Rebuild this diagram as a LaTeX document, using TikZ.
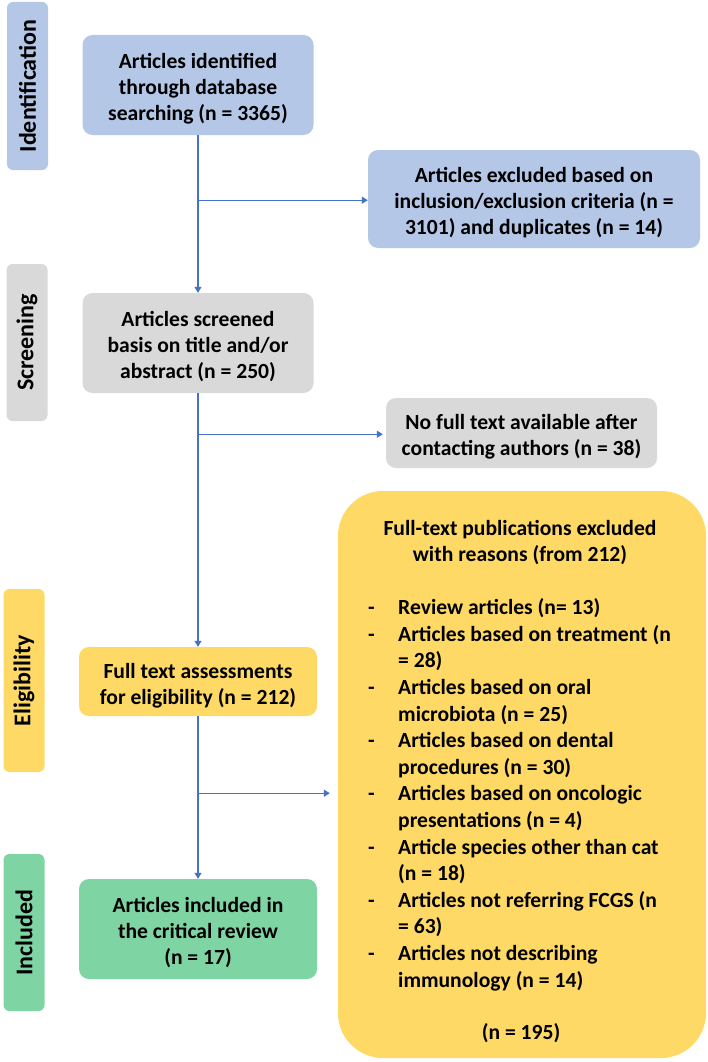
\documentclass[tikz,border=0pt]{standalone}
\usepackage{fontspec}
\setmainfont{Carlito}
\usetikzlibrary{arrows.meta,calc}
\definecolor{bluefill}{RGB}{180,199,231}
\definecolor{grayfill}{RGB}{217,217,217}
\definecolor{yellowfill}{RGB}{255,217,102}
\definecolor{greenfill}{RGB}{127,212,163}
\definecolor{arrowblue}{RGB}{68,114,196}
\newcommand\lidash{\makebox[30pt][l]{-}}
\newcommand\licont{\hspace*{30pt}}
\newcommand\vstrut{\rule{0pt}{23pt}}
\begin{document}
\begin{tikzpicture}[x=1pt,y=-1pt,
  boxtxt/.style={rounded corners=10pt, align=center, inner sep=0pt,
    font=\fontsize{21.6}{26}\selectfont\bfseries},
  sidelab/.style={rounded corners=6pt, rotate=90, inner sep=0pt,
    minimum height=41pt, font=\fontsize{24}{28}\selectfont\bfseries},
  conn/.style={draw=arrowblue, line width=1.2pt, -{Triangle[width=7pt,length=6pt]}},
  bigtxt/.style={inner sep=0pt, font=\fontsize{21.6}{26.6}\selectfont\bfseries}
]
\useasboundingbox[fill=white] (0,0) rectangle (708,1062);

% side labels
\node[sidelab, fill=bluefill, minimum width=168pt] (idlab) at (27.5,86) {Identification};
\node[sidelab, fill=grayfill, minimum width=157pt] (scrlab) at (27,342.5) {Screening};
\node[sidelab, fill=yellowfill, minimum width=183pt] (eliglab) at (24,680.5) {Eligibility};
\node[sidelab, fill=greenfill, minimum width=157pt] (incllab) at (24,932.5) {Included};

% main boxes
\node[boxtxt, fill=bluefill, minimum width=231pt, minimum height=100pt] (ident) at (198,85)
  {\vstrut Articles identified\\through database\\searching (n = 3365)};
\node[boxtxt, fill=bluefill, minimum width=332pt, minimum height=98pt] (excl) at (534,199)
  {\vstrut Articles excluded based on\\inclusion/exclusion criteria (n =\\3101) and duplicates (n = 14)};
\node[boxtxt, fill=grayfill, minimum width=231pt, minimum height=100pt] (screen) at (198,343)
  {\vstrut Articles screened\\basis on title and/or\\abstract (n = 250)};
\node[boxtxt, fill=grayfill, minimum width=271pt, minimum height=70pt] (nofull) at (521.5,433)
  {\vstrut No full text available after\\contacting authors (n = 38)};
\node[boxtxt, fill=yellowfill, minimum width=238pt, minimum height=69pt] (elig) at (198,681.5)
  {\vstrut Full text assessments\\for eligibility (n = 212)};
\node[boxtxt, fill=greenfill, minimum width=238pt, minimum height=100pt] (incl) at (198,929)
  {\vstrut Articles included in\\the critical review\\(n = 17)};

% big exclusion box
\node[fill=yellowfill, rounded corners=45pt, inner sep=0pt, minimum width=368pt, minimum height=567pt] (big) at (522,774.5) {};
\node[bigtxt, align=center] (bighead) at (520,542.5)
  {Full-text publications excluded\\with reasons (from 212)};
\node[bigtxt, align=left, anchor=north west] (biglist) at (368,598.5)
  {\lidash Review articles (n= 13)\\
   \lidash Articles based on treatment (n\\
   \licont = 28)\\
   \lidash Articles based on oral\\
   \licont microbiota (n = 25)\\
   \lidash Articles based on dental\\
   \licont procedures (n = 30)\\
   \lidash Articles based on oncologic\\
   \licont presentations (n = 4)\\
   \lidash Article species other than cat\\
   \licont (n = 18)\\
   \lidash Articles not referring FCGS (n\\
   \licont = 63)\\
   \lidash Articles not describing\\
   \licont immunology (n = 14)};
\node[bigtxt] (bigfoot) at (521,1033) {(n = 195)};

% connectors
\path (ident.south) ++(0,65) coordinate (b1);
\path (screen.south) ++(0,41) coordinate (b2);
\path (elig.south) ++(0,77) coordinate (b3);
\draw[conn] (ident.south) -- (screen.north);
\draw[conn] (screen.south) -- (elig.north);
\draw[conn] (elig.south) -- (incl.north);
\draw[conn] (b1) -- (b1 -| excl.west);
\draw[conn, shorten >=3pt] (b2) -- (b2 -| nofull.west);
\draw[conn, shorten >=8pt] (b3) -- (b3 -| big.west);
\end{tikzpicture}
\end{document}
